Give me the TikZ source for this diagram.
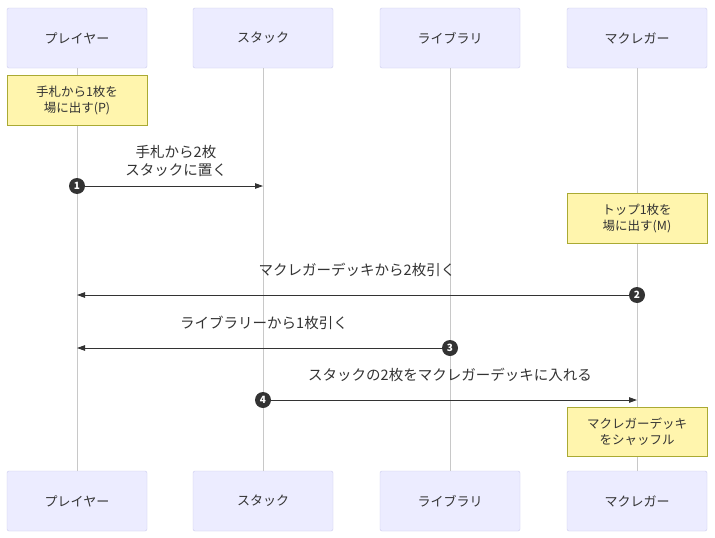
\documentclass[tikz,border=0pt]{standalone}
\usepackage{fontspec}
\setmainfont{Noto Sans CJK JP}
\usetikzlibrary{arrows.meta}
\definecolor{actorfill}{HTML}{ECECFF}
\definecolor{actorline}{HTML}{CCCCEE}
\definecolor{notefill}{HTML}{FFF5AD}
\definecolor{noteline}{HTML}{AAAA33}
\definecolor{ink}{HTML}{333333}
\definecolor{lifeline}{HTML}{C8C8C8}
\tikzset{
  actor/.style={draw=actorline, fill=actorfill, rounded corners=2pt, minimum width=140pt, minimum height=60pt, text=ink, font=\fontsize{13}{16}\selectfont},
  memo/.style={draw=noteline, fill=notefill, minimum width=140pt, text=ink, align=center, font=\fontsize{12.5}{16}\selectfont},
  msg/.style={draw=ink, line width=0.9pt, -{Triangle[length=8pt, width=5.5pt]}},
  msgtext/.style={text=ink, align=center, font=\fontsize{14.5}{18}\selectfont},
  seqnum/.style={circle, fill=ink, inner sep=0pt, minimum size=16pt, text=white, font=\bfseries\fontsize{10}{10}\selectfont}
}
\begin{document}
\begin{tikzpicture}[x=1pt, y=-1pt]
      \useasboundingbox[fill=white] (0,0) rectangle (715,538);

      % actors (top)
      \node[actor] (pa) at (77, 38) {プレイヤー};
      \node[actor] (sa) at (263, 38) {スタック};
      \node[actor] (la) at (450, 38) {ライブラリ};
      \node[actor] (ma) at (637, 38) {マクレガー};
      % actors (bottom)
      \node[actor] (pb) at (77, 501) {プレイヤー};
      \node[actor] (sb) at (263, 501) {スタック};
      \node[actor] (lb) at (450, 501) {ライブラリ};
      \node[actor] (mb) at (637, 501) {マクレガー};

      \foreach \a/\b in {pa/pb, sa/sb, la/lb, ma/mb}
        \draw[lifeline, line width=0.8pt] (\a.south) -- (\b.north);

      % notes
      \node[memo, minimum height=50pt] (np) at (77, 100) {手札から1枚を\\場に出す(P)};
      \node[memo, minimum height=50pt] (nm) at (637, 218) {トップ1枚を\\場に出す(M)};
      \node[memo, minimum height=49pt] (ns) at (637, 431.5) {マクレガーデッキ\\をシャッフル};

      % messages
      \coordinate (m1a) at (77, 186);  \coordinate (m1b) at (263, 186);
      \coordinate (m2a) at (637, 295); \coordinate (m2b) at (77, 295);
      \coordinate (m3a) at (450, 348); \coordinate (m3b) at (77, 348);
      \coordinate (m4a) at (263, 400); \coordinate (m4b) at (637, 400);

      \draw[msg] (m1a) -- (m1b);
      \draw[msg] (m2a) -- (m2b);
      \draw[msg] (m3a) -- (m3b);
      \draw[msg] (m4a) -- (m4b);

      \node[msgtext] (t1) at (176, 161) {手札から2枚\\スタックに置く};
      \node[msgtext] (t2) at (357, 270) {マクレガーデッキから2枚引く};
      \node[msgtext] (t3) at (264, 323) {ライブラリーから1枚引く};
      \node[msgtext] (t4) at (450, 375) {スタックの2枚をマクレガーデッキに入れる};

      \node[seqnum] (n1) at (m1a) {1};
      \node[seqnum] (n2) at (m2a) {2};
      \node[seqnum] (n3) at (m3a) {3};
      \node[seqnum] (n4) at (m4a) {4};
    \end{tikzpicture}
\end{document}
